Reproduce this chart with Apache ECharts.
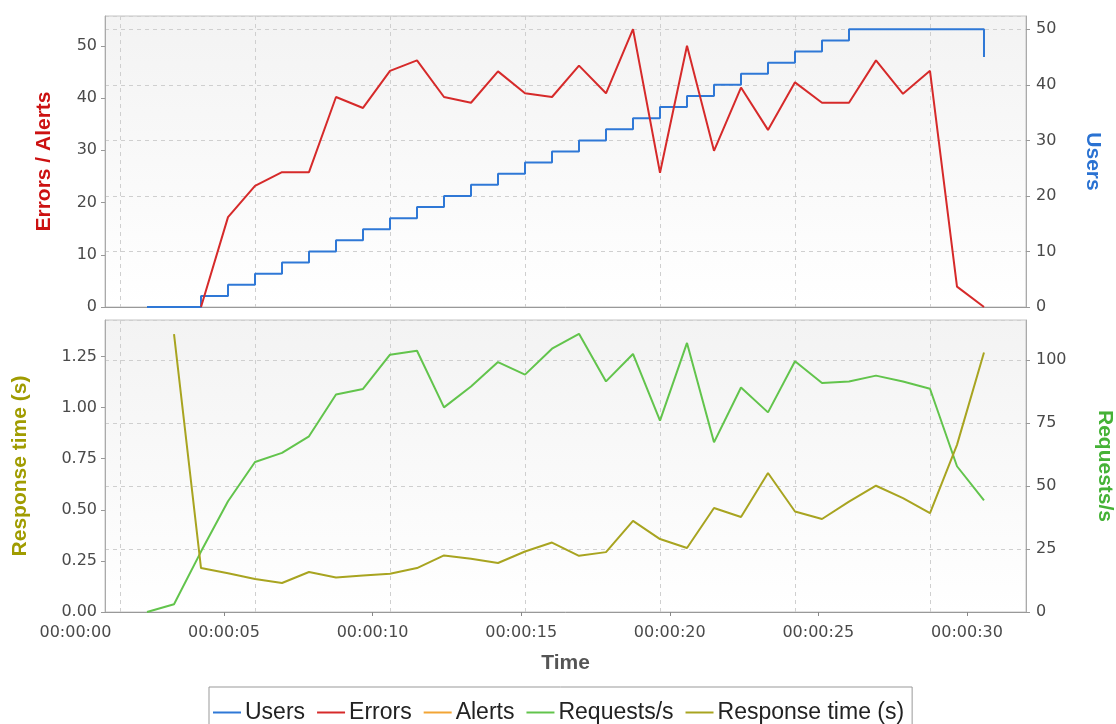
<!DOCTYPE html>
<html lang="en">
<head>
    <meta charset="utf-8" />
    <title>Load test</title>
    <script type="text/javascript" src="https://cdn.jsdelivr.net/npm/echarts@6/dist/echarts.min.js"></script>
</head>
<body style="margin:0;background-color:#fff">
    <div id="container" style="width:1116px;height:724px;"></div>
</body>
</html>
<script type="text/javascript">
    // sample number along the run (one sample ~0.9 s)
    var sampleNo = [1, 2, 3, 4, 5, 6, 7, 8, 9, 10, 11, 12, 13, 14, 15, 16,
        17, 18, 19, 20, 21, 22, 23, 24, 25, 26, 27, 28, 29, 30, 31, 32];
    var users = [0, 0, 2, 4, 6, 8, 10, 12, 14, 16, 18, 20, 22, 24, 26, 28,
        30, 32, 34, 36, 38, 40, 42, 44, 46, 48, 50, 50, 50, 50, 50, 45];
    var errors = [null, null, 0, 17.2, 23.2, 25.8, 25.8, 40.2, 38.1, 45.2, 47.2, 40.2, 39.1, 45.1, 40.9, 40.2,
        46.2, 40.9, 53.2, 25.7, 50.0, 29.9, 42.0, 33.9, 43.0, 39.1, 39.1, 47.2, 40.8, 45.2, 3.9, 0];
    var alerts = [];
    var requests = [0, 3.1, 24, 44.0, 59.6, 63.2, 69.8, 86.4, 88.6, 102.2, 103.8, 81.3, 89.6, 99.3, 94.3, 104.6,
        110.5, 91.6, 102.5, 76.0, 106.9, 67.4, 89.2, 79.3, 99.6, 91.0, 91.6, 93.9, 91.6, 88.7, 57.9, 44.3];
    var respTime = [null, 1.36, 0.215, 0.19, 0.161, 0.142, 0.196, 0.169, 0.179, 0.187, 0.215, 0.277, 0.261, 0.240, 0.296, 0.340,
        0.275, 0.293, 0.446, 0.357, 0.313, 0.509, 0.465, 0.680, 0.492, 0.455, 0.54, 0.618, 0.557, 0.484, 0.818, 1.270];
    var gridSamples = [0, 5, 10, 15, 20, 25, 30]; // vertical grid lines, in samples
    var timeTicks = [0, 5, 10, 15, 20, 25, 30];   // seconds

    var pair = function (vals) {
        var res = [];
        for (var i = 0; i < vals.length; i++) {
            res.push([sampleNo[i], vals[i] == null ? '-' : vals[i]]);
        }
        return res;
    };

    var dom = document.getElementById("container");
    var myChart = echarts.init(dom);

    var tickFont = { fontFamily: 'DejaVu Sans', fontSize: 16, color: '#4a4a4a' };
    var titleFont = function (c) {
        return { fontFamily: 'Liberation Sans', fontSize: 21, fontWeight: 'bold', color: c };
    };
    var plotBg = new echarts.graphic.LinearGradient(0, 0, 0, 1, [
        { offset: 0, color: '#f3f3f3' }, { offset: 1, color: '#ffffff' }
    ]);
    var dashed = { show: true, lineStyle: { color: '#cfcfcf', type: [4, 4], width: 1 } };
    var sampleAxis = function (grid) {
        return {
            type: 'value', gridIndex: grid, min: -0.556, max: 33.556,
            axisLine: { show: true, onZero: false, lineStyle: { color: '#999' } },
            axisTick: { show: false, customValues: gridSamples },
            axisLabel: { show: false },
            splitLine: dashed
        };
    };
    var valAxis = function (grid, pos, max, step, show) {
        return {
            type: 'value', gridIndex: grid, position: pos, min: 0, max: max, interval: step,
            axisLine: { show: true, onZero: false, lineStyle: { color: '#aaa' } },
            axisTick: { show: true, length: 4, lineStyle: { color: '#999' } },
            axisLabel: Object.assign({ margin: 8, showMaxLabel: false }, tickFont),
            splitLine: show ? dashed : { show: false },
            nameLocation: 'middle'
        };
    };

    var x1 = sampleAxis(1);
    x1.name = 'Time';
    x1.nameLocation = 'middle';
    x1.nameGap = 41;
    x1.nameTextStyle = titleFont('#555');

    var yErr = valAxis(0, 'left', 55.7, 10, false);
    yErr.name = 'Errors / Alerts'; yErr.nameGap = 50; yErr.nameTextStyle = titleFont('#cc1111');
    var yUsers = valAxis(0, 'right', 52.4, 10, true);
    yUsers.name = 'Users'; yUsers.nameGap = 56; yUsers.nameRotate = -90; yUsers.nameTextStyle = titleFont('#2a72d2');
    yUsers.axisLabel.margin = 10;
    var yResp = valAxis(1, 'left', 1.429, 0.25, false);
    yResp.name = 'Response time (s)'; yResp.nameGap = 74; yResp.nameTextStyle = titleFont('#a09c00');
    yResp.axisLabel.formatter = function (v) { return v.toFixed(2); };
    var yReq = valAxis(1, 'right', 116, 25, true);
    yReq.name = 'Requests/s'; yReq.nameGap = 68; yReq.nameRotate = -90; yReq.nameTextStyle = titleFont('#45b236');
    yReq.axisLabel.margin = 10;

    var option = {
        backgroundColor: '#fff',
        animation: false,
        grid: [
            { left: 105, right: 90, top: 16, height: 291, show: true, backgroundColor: plotBg, borderColor: '#c4c4c4', borderWidth: 1, outerBoundsMode: 'none' },
            { left: 105, right: 90, top: 320, height: 292, show: true, backgroundColor: plotBg, borderColor: '#c4c4c4', borderWidth: 1, outerBoundsMode: 'none' },
            // time labels: 0 s sits left of the plot area
            { left: 75.4, right: 89.6, top: 320, height: 292, show: false, outerBoundsMode: 'none' }
        ],
        legend: {
            left: 209, top: 687,
            padding: [14, 8, 14, 4],
            borderColor: '#999', borderWidth: 1, backgroundColor: '#fff',
            icon: 'rect', itemWidth: 28, itemHeight: 2, itemGap: 12,
            textStyle: { fontFamily: 'Liberation Sans', fontSize: 23, color: '#222', padding: [0, 0, 0, -1] },
            data: ['Users', 'Errors', 'Alerts', 'Requests/s', 'Response time (s)']
        },
        xAxis: [
            sampleAxis(0),
            x1,
            {
                type: 'value', gridIndex: 2, min: 0, max: 32, interval: 5,
                axisLine: { show: false },
                splitLine: { show: false },
                axisTick: { show: true, customValues: [5, 10, 15, 20, 25, 30], length: 4, lineStyle: { color: '#888' } },
                axisLabel: Object.assign({
                    customValues: timeTicks, margin: 13,
                    formatter: function (v) { return '00:00:' + (v < 10 ? '0' : '') + v; }
                }, tickFont)
            }
        ],
        yAxis: [yErr, yUsers, yResp, yReq, { type: 'value', gridIndex: 2, show: false }],
        series: [
            {
                name: 'Users', type: 'line', step: 'end', xAxisIndex: 0, yAxisIndex: 1,
                data: pair(users), showSymbol: false, color: '#2f78d6', lineStyle: { width: 2 }
            },
            {
                name: 'Errors', type: 'line', xAxisIndex: 0, yAxisIndex: 0,
                data: pair(errors), showSymbol: false, color: '#d62a2a', lineStyle: { width: 2 }
            },
            {
                name: 'Alerts', type: 'line', xAxisIndex: 0, yAxisIndex: 0,
                data: pair(alerts), showSymbol: false, color: '#f2a535', lineStyle: { width: 2 }
            },
            {
                name: 'Requests/s', type: 'line', xAxisIndex: 1, yAxisIndex: 3,
                data: pair(requests), showSymbol: false, color: '#62c44c', lineStyle: { width: 2 }
            },
            {
                name: 'Response time (s)', type: 'line', xAxisIndex: 1, yAxisIndex: 2,
                data: pair(respTime), showSymbol: false, color: '#a8a420', lineStyle: { width: 2 }
            }
        ]
    };
    myChart.setOption(option);
</script>
